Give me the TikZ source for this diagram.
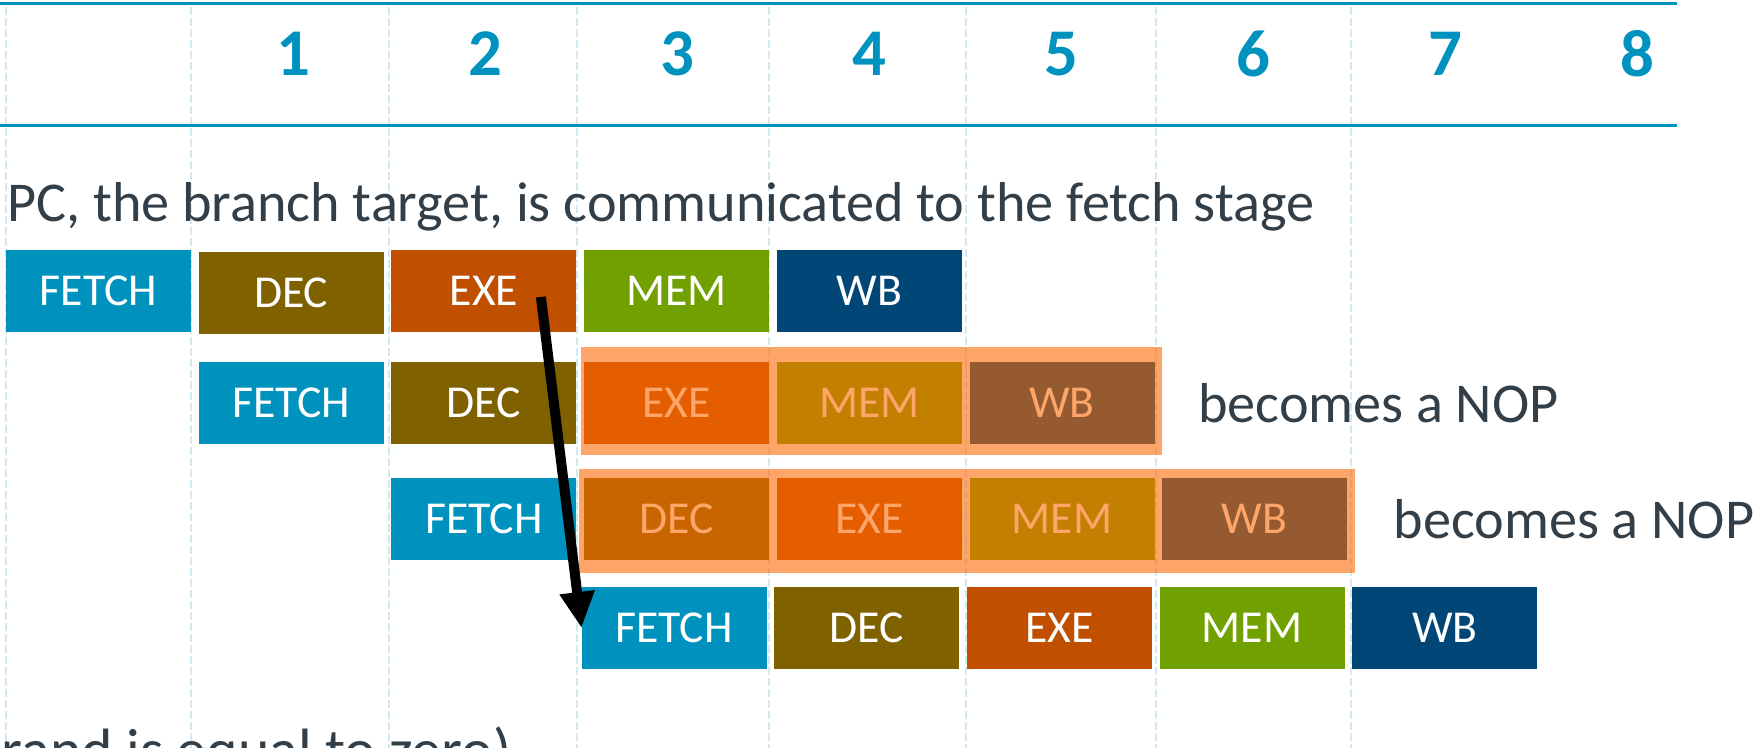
\documentclass[tikz,border=0pt]{standalone}
\usepackage{fontspec}
\setmainfont{Carlito}
\usetikzlibrary{positioning,calc,arrows.meta}
\definecolor{fetchcol}{RGB}{0,146,190}
\definecolor{deccol}{RGB}{127,97,0}
\definecolor{execol}{RGB}{192,80,0}
\definecolor{memcol}{RGB}{112,161,0}
\definecolor{wbcol}{RGB}{0,70,118}
\definecolor{nopcol}{RGB}{254,104,0}
\definecolor{txtcol}{RGB}{50,62,72}
\definecolor{gridcol}{RGB}{210,233,242}
\tikzset{%
  stage/.style = {rectangle,text=white,minimum width=18.5mm,
        minimum height=8.2mm,inner sep=0pt,outer sep=0pt,
        font=\fontsize{13}{15}\selectfont},
  fe/.style = {stage,fill=fetchcol},
  de/.style = {stage,fill=deccol},
  ex/.style = {stage,fill=execol},
  me/.style = {stage,fill=memcol},
  wb/.style = {stage,fill=wbcol},
  nopmask/.style = {fill=nopcol,fill opacity=0.59},
  note/.style = {text=txtcol,inner sep=0pt,font=\fontsize{16}{19}\selectfont},
  clk/.style = {text=fetchcol,inner sep=0pt,font=\fontsize{19}{22}\selectfont\bfseries},
  hline/.style = {fetchcol,line width=0.3mm},
  gridline/.style = {gridcol,line width=0.27mm,dash pattern=on 0.77mm off 0.33mm},
  jump/.style = {-{Triangle[width=3.3mm,length=3.6mm]},line width=1mm,black}
}
\newcommand{\gap}{0.77mm}

\begin{document}
\begin{tikzpicture}[x=0.1mm,y=-0.1mm]
\useasboundingbox (0,0) rectangle (1757,748);
\clip (0,0) rectangle (1757,748);
% clock grid
\foreach \x in {6,191,389,577,769,966,1156,1351}
    \draw[gridline] (\x,7) -- (\x,760);
\draw[hline] (0,4) -- (1677,4);
\draw[hline] (0,125.5) -- (1677,125.5);
\foreach \n in {1,...,8}
    \node[clk] (c\n) at (102+191.9*\n,54) {\n};
\node[note,anchor=base west] (head) at (7,222)
    {PC, the branch target, is communicated to the fetch stage};
\node[note,anchor=base east,font=\fontsize{17}{20}\selectfont] (tail) at (512,770)
    {rand is equal to zero)};
% branch
\node[fe] (feA) at (98.5,291) {FETCH};
\node[de,right=\gap of feA,yshift=-0.2mm] (deA) {DEC};
\node[ex,right=\gap of feA,xshift=19.27mm] (exA) {EXE};
\node[me,right=\gap of exA] (meA) {MEM};
\node[wb,right=\gap of meA] (wbA) {WB};
% next two get squashed
\node[fe] (feB) at (291.2,403) {FETCH};
\node[de,right=\gap of feB] (deB) {DEC};
\node[ex,right=\gap of deB] (exB) {EXE};
\node[me,right=\gap of exB] (meB) {MEM};
\node[wb,right=\gap of meB] (wbB) {WB};
\node[note,right=4.3mm of wbB] (nopB) {becomes a NOP};
\node[fe] (feC) at (483.9,519) {FETCH};
\node[de,right=\gap of feC] (deC) {DEC};
\node[ex,right=\gap of deC] (exC) {EXE};
\node[me,right=\gap of exC] (meC) {MEM};
\node[wb,right=\gap of meC] (wbC) {WB};
\node[note,right=4.6mm of wbC] (nopC) {becomes a NOP};
% target
\node[fe] (feD) at (674,628) {FETCH};
\node[de,right=\gap of feD] (deD) {DEC};
\node[ex,right=\gap of deD] (exD) {EXE};
\node[me,right=\gap of exD] (meD) {MEM};
\node[wb,right=\gap of meD] (wbD) {WB};
\fill[nopmask] ($(exB.north west)+(-3,-15)$) rectangle ($(wbB.south east)+(7,11)$);
\fill[nopmask] ($(deC.north west)+(-5,-9)$) rectangle ($(wbC.south east)+(8,13)$);
\coordinate (pcout) at ($(exA.center)+(57,6)$);
\draw[jump] (pcout) -- (feD.west);
\end{tikzpicture}
\end{document}
